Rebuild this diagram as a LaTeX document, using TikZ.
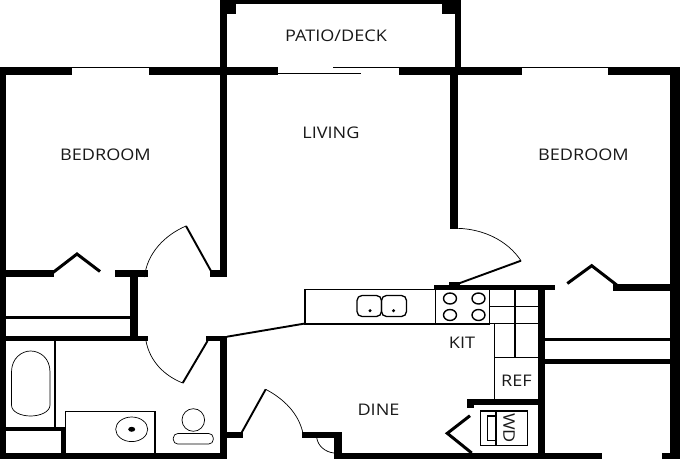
\documentclass[tikz,border=0pt]{standalone}
\usepackage{fontspec}
\setmainfont[FakeStretch=1.13]{Open Sans}
\newcommand{\W}[4]{\fill (#1,#2) rectangle (#3,#4);}
\tikzset{
  x=1pt,y=-1pt,
  thinl/.style={line width=1.5pt},
  hair/.style={line width=0.7pt},
  leaf/.style={line width=1.9pt},
  bifold/.style={line width=3pt,line join=miter},
  fixture/.style={line width=1.2pt},
  room/.style={font=\fontsize{16}{18}\selectfont,text=black!90,inner sep=0pt}
}
\begin{document}
\begin{tikzpicture}
\useasboundingbox (0,0) rectangle (680,460);
\fill[white] (0,0) rectangle (680,460);
% outer top wall
\W{0}{67}{72}{75}
\W{149}{67}{278}{75}
\W{399}{67}{522}{75}
\W{608}{67}{680}{75}
\draw[hair] (72,67.5) -- (149,67.5) (522,67.5) -- (608,67.5);
% sliding door
\draw[thinl] (278,73.5) -- (361,73.5);
\draw[thinl] (333,67.5) -- (399,67.5);
% patio
\W{219.5}{0}{461}{4}
\W{219.5}{0}{226.5}{75}
\W{219.5}{0}{236}{14}
\W{442}{0}{461}{14}
\W{455}{0}{461}{70}
% outer walls
\W{0}{67}{6}{459}
\W{670}{67}{680}{454}
\W{0}{453}{227}{459}
\W{334}{453}{602}{459}
\W{662}{453}{680}{459}
% interior verticals
\W{219.5}{67}{227}{277}
\W{450}{67}{458}{229}
% left closet
\W{0}{270}{54}{277}
\W{115}{270}{148}{277}
\W{130}{270}{138}{341}
\fill (0,315.5) rectangle (130,318.5);
\W{0}{335.5}{148}{341}
\W{206}{335.5}{227}{341}
\W{210}{270}{227}{277}
\W{219.5}{335.5}{227}{459}
\W{227}{432}{243}{438}
\draw[bifold] (53,272.5) -- (77,254) -- (100,271.5);
% bedroom door
\draw[leaf] (211,271) -- (186,226);
\draw[hair] (144.5,277) .. controls (147,253) and (165,235) .. (186,226);
% bath door
\draw[leaf] (207.5,341) -- (182.7,383);
\draw[hair] (146,341) .. controls (150,362) and (165,376) .. (182.7,383);
% hall line
\draw[leaf] (227,336.7) -- (305,323.5);
% counter
\draw[fixture] (305,289.5) rectangle (435.5,324);
\draw[fixture] (435.5,289.5) rectangle (489.5,324);
\draw[fixture] (489.5,306.8) -- (537.5,306.8);
\draw[fixture] (489.5,323.5) -- (537.5,323.5);
\draw[fixture] (515,290) -- (515,358);
\draw[fixture] (494.5,323.5) -- (494.5,399.5);
\draw[fixture] (494.5,357.5) -- (537.5,357.5);
% kitchen walls
\W{434}{284.5}{555}{290}
\W{449}{282}{460}{285}
\W{537.5}{285}{545}{459}
\W{467}{399}{537.5}{404.5}
\W{467}{399}{474}{408}
% sink
\draw[line width=1.3pt,rounded corners=5pt] (357,295.5) rectangle (381.5,316.5);
\draw[line width=1.3pt,rounded corners=5pt] (381.5,295.5) rectangle (406.5,316.5);
\fill (370,310.7) circle (1.7);
\fill (393.5,310.7) circle (1.7);
% burners
\foreach \bx/\by in {450/298.5,478.5/298.5,450/315,478.5/315}
  \draw[line width=1.4pt] (\bx,\by) ellipse (6.5 and 5.5);
% living door
\draw[leaf] (457.3,284) -- (521,260.7);
\draw[hair] (457.3,228.3) .. controls (483,229) and (507,240) .. (521,260.7);
% right closet
\W{613}{284}{680}{290.5}
\draw[bifold] (567.3,283.5) -- (591.7,265.7) -- (616.7,285);
\fill (545,337.7) rectangle (670,340.7);
\W{545}{358.7}{670}{364.3}
% entry door
\draw[leaf] (241.7,432.5) -- (265.7,389.3);
\draw[hair] (265.7,389.3) .. controls (284,399) and (298,413) .. (302.7,432);
\W{302}{432}{341.5}{437.7}
\W{334}{432}{341.5}{459}
\draw[hair] (316.7,437.7) .. controls (318,446) and (325,452) .. (334,453);
% WD
\draw[bifold] (470,415.7) -- (447.3,433.3) -- (471.7,453);
\draw[thinl] (480.7,411) rectangle (527.7,445.7);
\draw[thinl] (496,411) -- (496,445.7);
\draw[fixture] (487.3,416) rectangle (496,440.7);
% bath
\draw[line width=1.3pt] (55,341) -- (55,427);
\W{6}{426.7}{65}{430.5}
\W{61}{427}{66}{453}
\draw[line width=1.3pt] (65.5,411.7) -- (155,411.7) -- (155,453);
\draw[line width=1.3pt] (65.5,411) -- (65.5,430);
\draw[hair] (11.5,372) .. controls (11.5,358) and (22,351) .. (30.5,351) .. controls (40,351) and (50,358) .. (50,372) -- (50,405) .. controls (50,412) and (40,416) .. (30.5,416) .. controls (21,416) and (11.5,412) .. (11.5,405) -- cycle;
\draw[hair] (131.7,429.3) ellipse (16 and 12.3);
\fill (131.7,429.3) ellipse (3.5 and 2.5);
\draw[hair] (193.3,420) circle (11.3);
\draw[hair,rounded corners=4.5pt] (173.3,433.5) rectangle (213.3,444);
% labels
\node[room] (bed1) at (105.5,154.5) {BEDROOM};
\node[room] (bed2) at (583.5,154.5) {BEDROOM};
\node[room] (living) at (331,132.5) {LIVING};
\node[room] (patio) at (336,35.5) {PATIO/DECK};
\node[room] (kit) at (462,342.5) {KIT};
\node[room] (dine) at (378.5,410) {DINE};
\node[room] (ref) at (516.5,380.5) {REF};
\node[room,rotate=-90] (wd) at (509,428) {WD};
\end{tikzpicture}
\end{document}
